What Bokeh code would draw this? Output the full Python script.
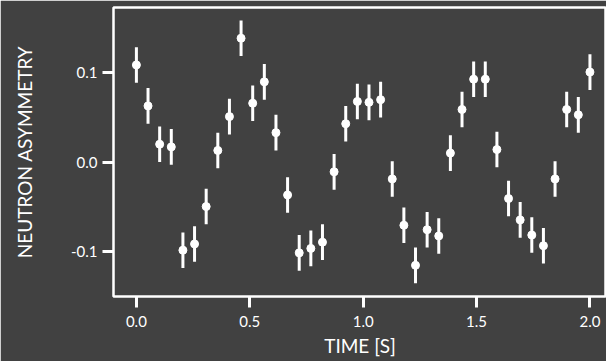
import numpy as np
from bokeh.plotting import figure
from bokeh.models import Range1d, ColumnDataSource, FixedTicker
from bokeh.embed import file_html
from bokeh.resources import INLINE

# data
n_points = 40
time_s = np.linspace(0.0, 2.0, n_points)
asymmetry = [0.109, 0.063, 0.020, 0.017, -0.099, -0.092, -0.050, 0.013, 0.051, 0.139,
             0.066, 0.090, 0.033, -0.037, -0.102, -0.097, -0.090, -0.011, 0.043, 0.068,
             0.067, 0.070, -0.019, -0.071, -0.116, -0.076, -0.083, 0.010, 0.059, 0.093,
             0.093, 0.014, -0.041, -0.065, -0.082, -0.094, -0.019, 0.059, 0.053, 0.101]
error = [0.02] * n_points
x_ticks = [0.0, 0.5, 1.0, 1.5, 2.0]
y_ticks = [-0.1, 0.0, 0.1]

FONT = "Lato"
BG = "#414141"
FG = "#ffffff"

src = ColumnDataSource(dict(
    x=time_s, y=asymmetry,
    lo=[a - e for a, e in zip(asymmetry, error)],
    hi=[a + e for a, e in zip(asymmetry, error)],
))

p = figure(width=606, height=361, output_backend="svg", toolbar_location=None,
           x_range=Range1d(-0.101, 2.073), y_range=Range1d(-0.151, 0.1735),
           min_border_left=113, min_border_right=0, min_border_top=7, min_border_bottom=65)

p.background_fill_color = BG
p.border_fill_color = BG
p.outline_line_color = FG
p.outline_line_width = 2.5
p.grid.visible = False

p.segment(x0="x", y0="lo", x1="x", y1="hi", source=src, line_color=FG, line_width=3)
p.scatter(x="x", y="y", source=src, size=8, fill_color=FG, line_color=FG)

for ax in (p.xaxis[0], p.yaxis[0]):
    ax.axis_line_color = None
    ax.major_tick_line_color = FG
    ax.major_tick_line_width = 3
    ax.major_tick_out = 11
    ax.major_tick_in = 0
    ax.minor_tick_line_color = None
    ax.major_label_text_color = FG
    ax.major_label_text_font = FONT
    ax.major_label_text_font_size = "15px"
    ax.axis_label_text_color = FG
    ax.axis_label_text_font = FONT
    ax.axis_label_text_font_size = "19px"
    ax.axis_label_text_font_style = "normal"

p.xaxis.ticker = FixedTicker(ticks=x_ticks)
p.yaxis.ticker = FixedTicker(ticks=y_ticks)
p.xaxis.major_label_overrides = {t: f"{t:.1f}" for t in x_ticks}
p.yaxis.major_label_overrides = {t: f"{t:.1f}" for t in y_ticks}
p.xaxis.major_label_standoff = 8
p.yaxis.major_label_standoff = 5
p.xaxis.axis_label = "TIME [S]"
p.yaxis.axis_label = "NEUTRON ASYMMETRY"
p.xaxis.axis_label_standoff = 4
p.yaxis.axis_label_standoff = 32

open("out.html", "w").write(file_html(p, INLINE))
